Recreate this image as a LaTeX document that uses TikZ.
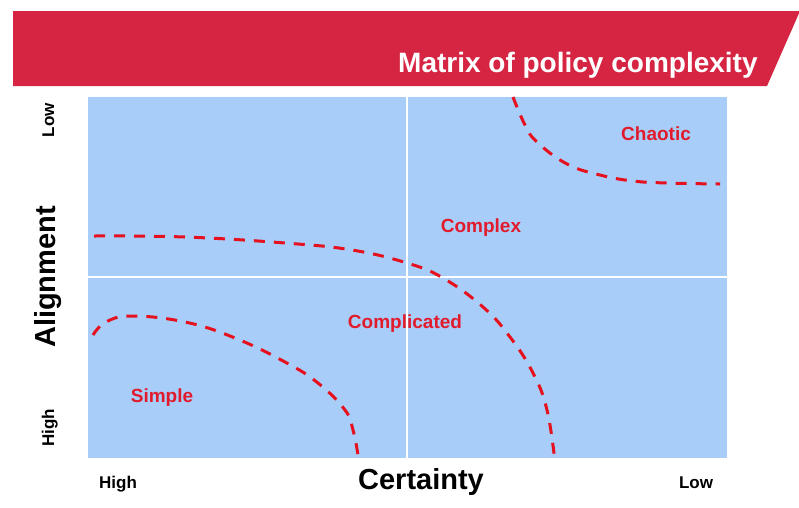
\documentclass[tikz,border=0pt]{standalone}
\usepackage{fontspec}
\setmainfont{Liberation Sans}
\usepackage{xcolor}
\usetikzlibrary{positioning}

\definecolor{bannerred}{HTML}{D52542}
\definecolor{quadblue}{HTML}{A8CDF9}
\definecolor{zonered}{HTML}{E6111E}
\definecolor{labred}{HTML}{E11B2C}

\begin{document}
\begin{tikzpicture}[
  x=1pt, y=-1pt,
  banner/.style={fill=bannerred, draw=none},
  quad/.style={fill=quadblue, draw=none},
  divider/.style={draw=white, line width=2.5pt},
  zone/.style={draw=zonered, line width=3pt, dash pattern=on 11pt off 9pt},
  zonelab/.style={font=\fontsize{19}{21}\selectfont\bfseries, text=labred,
    inner sep=0pt, anchor=base},
  axislab/.style={font=\fontsize{29}{31}\selectfont\bfseries,
    inner sep=0pt, anchor=base},
  endlab/.style={font=\fontsize{17}{19}\selectfont\bfseries,
    inner sep=0pt, anchor=base}
]
  \useasboundingbox (0,0) rectangle (799,507);

  \fill[banner] (13,11) -- (800,11) -- (767,86) -- (13,86) -- cycle;
  \node[font=\fontsize{28}{30}\selectfont\bfseries, text=white,
    inner sep=0pt, anchor=base west] (title) at (398,72)
    {Matrix of policy complexity};

  \fill[quad] (88,97) rectangle (727,458);
  \draw[divider] (407,97) -- (407,458);
  \draw[divider] (88,277) -- (727,277);

  \draw[zone] plot[smooth, tension=0.7] coordinates {(93,335) (106,322)
    (132,316) (185,322) (235,338) (285,362) (318,383) (345,410) (353,430)
    (358,455)};
  \draw[zone] plot[smooth, tension=0.7] coordinates {(94,236) (185,237)
    (285,243) (352,250) (407,263) (443,278) (483,307) (510,337) (533,373)
    (547,410) (555,462)};
  \draw[zone] plot[smooth, tension=0.7] coordinates {(513,97) (525,125)
    (537,142) (567,164) (600,175) (633,181) (667,183) (720,184)};

  \node[zonelab] (chaotic) at (656,140) {Chaotic};
  \node[zonelab] (complex) at (481,232) {Complex};
  \node[zonelab] (complicated) at (405,328) {Complicated};
  \node[zonelab] (simple) at (162,402) {Simple};

  \node[axislab, rotate=90] (alignment) at (55,277) {Alignment};
  \node[endlab, rotate=90] (alow) at (54,120) {Low};
  \node[endlab, rotate=90] (ahigh) at (54,428) {High};

  \node[axislab] (certainty) at (421,489) {Certainty};
  \node[endlab] (chigh) at (118,488) {High};
  \node[endlab] (clow) at (696,488) {Low};
\end{tikzpicture}
\end{document}
